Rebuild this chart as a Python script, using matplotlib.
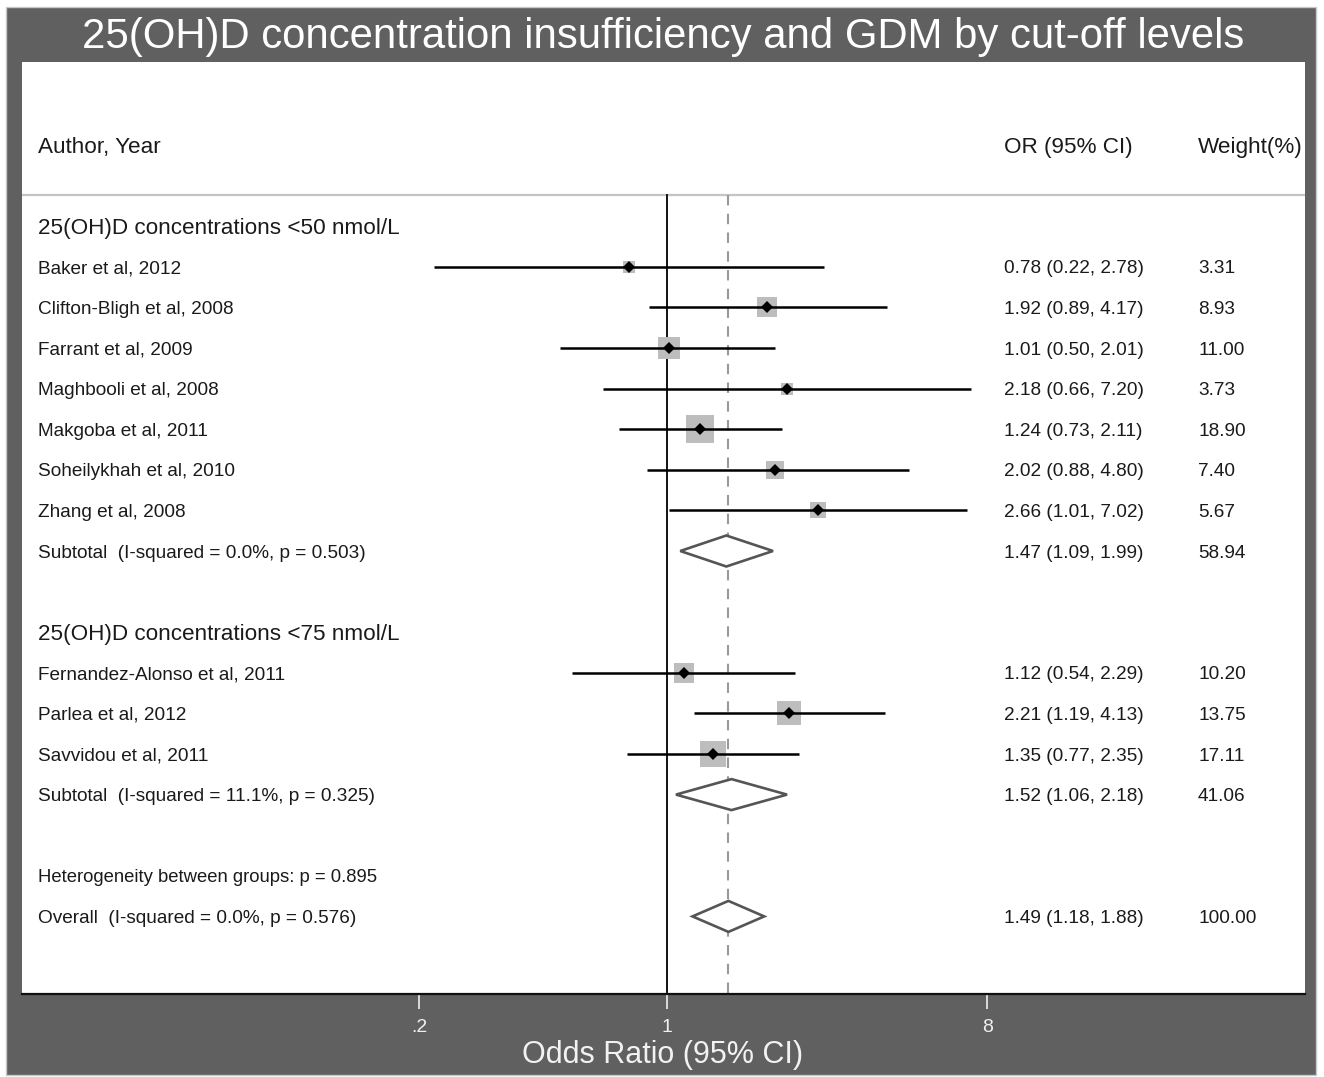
import matplotlib
matplotlib.use("Agg")
import matplotlib.pyplot as plt
from matplotlib.patches import Rectangle, Polygon
from matplotlib import transforms
import numpy as np

plt.rcParams['font.family'] = ['Liberation Sans', 'DejaVu Sans']

# ---------------- data ----------------
title = "25(OH)D concentration insufficiency and GDM by cut-off levels"
xlabel = "Odds Ratio (95% CI)"

group1_label = "25(OH)D concentrations <50 nmol/L"
group1_studies = ["Baker et al, 2012", "Clifton-Bligh et al, 2008", "Farrant et al, 2009",
                  "Maghbooli et al, 2008", "Makgoba et al, 2011", "Soheilykhah et al, 2010",
                  "Zhang et al, 2008"]
group1_or = [0.78, 1.92, 1.01, 2.18, 1.24, 2.02, 2.66]
group1_lo = [0.22, 0.89, 0.50, 0.66, 0.73, 0.88, 1.01]
group1_hi = [2.78, 4.17, 2.01, 7.20, 2.11, 4.80, 7.02]
group1_w = [3.31, 8.93, 11.00, 3.73, 18.90, 7.40, 5.67]
group1_sub_label = "Subtotal  (I-squared = 0.0%, p = 0.503)"
group1_sub = (1.47, 1.09, 1.99, 58.94)

group2_label = "25(OH)D concentrations <75 nmol/L"
group2_studies = ["Fernandez-Alonso et al, 2011", "Parlea et al, 2012", "Savvidou et al, 2011"]
group2_or = [1.12, 2.21, 1.35]
group2_lo = [0.54, 1.19, 0.77]
group2_hi = [2.29, 4.13, 2.35]
group2_w = [10.20, 13.75, 17.11]
group2_sub_label = "Subtotal  (I-squared = 11.1%, p = 0.325)"
group2_sub = (1.52, 1.06, 2.18, 41.06)

hetero_label = "Heterogeneity between groups: p = 0.895"
overall_label = "Overall  (I-squared = 0.0%, p = 0.576)"
overall = (1.49, 1.18, 1.88, 100.00)

xticks = [0.2, 1, 8]
xticklabels = [".2", "1", "8"]

# ---------------- figure ----------------
W, H = 1324, 1077
fig = plt.figure(figsize=(W / 100, H / 100), dpi=100)
fig.patch.set_facecolor("white")

frame_col = "#606060"
# gray frame as a background axes
bg = fig.add_axes([0, 0, 1, 1], zorder=-5)
bg.set_xlim(0, W)
bg.set_ylim(H, 0)
bg.axis("off")
bg.add_patch(Rectangle((6, 7), 1316 - 6, 1075 - 7, facecolor=frame_col,
                       edgecolor="#c8c8c8", lw=1))

ax_l, ax_r, ax_t, ax_b = 22, 1305, 62, 994
ax = fig.add_axes([ax_l / W, 1 - ax_b / H, (ax_r - ax_l) / W, (ax_b - ax_t) / H], zorder=1)
ax.set_facecolor("white")
ax.set_xscale("log")

# row geometry: row 0 at y=145px, 40.6 px per row
row_h = 40.6
y0 = 145
def prow(px):
    return (px - y0) / row_h

ax.set_ylim(prow(ax_b), prow(ax_t))
# x: pixel = 667 + 154*ln(OR)
def xval(px):
    return np.exp((px - 667) / 154.0)
ax.set_xlim(xval(ax_l), xval(ax_r))

for s in ["top", "left", "right"]:
    ax.spines[s].set_visible(False)
ax.spines["bottom"].set_color("#111111")
ax.spines["bottom"].set_linewidth(1.6)
ax.set_yticks([])
ax.set_xticks(xticks)
ax.set_xticklabels(xticklabels)
ax.xaxis.set_minor_locator(matplotlib.ticker.NullLocator())
ax.tick_params(axis="x", direction="out", length=11, width=1.2, colors="#f0f0f0",
               labelsize=14, pad=7, labelcolor="#f0f0f0")
ax.xaxis.get_major_ticks()[1].tick1line.set_color("#333333")

txt_col = "#1a1a1a"
small = 13.7
big = 16.2
toff = 0.05  # text vertical offset (rows)
blend = transforms.blended_transform_factory(fig.transFigure, ax.transData)
x_left = 38 / W
x_or = 1004 / W
x_w = 1198 / W

def put(x, row, s, size):
    ax.text(x, row + toff, s, transform=blend, fontsize=size, va="center", color=txt_col)

sep_row = prow(195)
ax.axhline(sep_row, color="#c4c4c4", lw=1.6, zorder=1)

# null line and overall dashed line
ax.plot([1, 1], [sep_row, prow(ax_b)], color="black", lw=1.3, zorder=2)
ax.plot([overall[0], overall[0]], [sep_row, prow(ax_b)], color="#999999", lw=1.5,
        ls=(0, (5, 4)), zorder=2)

# headers
put(x_left, 0, "Author, Year", big)
put(x_or, 0, "OR (95% CI)", big)
put(x_w, 0, "Weight(%)", big)

box_k = 6.44 * 0.72  # points per sqrt(weight)

def draw_study(row, name, o, lo, hi, w):
    ax.plot([lo, hi], [row, row], color="black", lw=1.8, zorder=4, solid_capstyle="butt")
    ax.plot([o], [row], marker="s", ms=box_k * np.sqrt(w), color="#bdbdbd",
            mew=0, zorder=3, ls="none")
    ax.plot([o], [row], marker="D", ms=6.3, color="black", mew=0, zorder=5, ls="none")
    put(x_left, row, name, small)
    put(x_or, row, f"{o:.2f} ({lo:.2f}, {hi:.2f})", small)
    put(x_w, row, f"{w:.2f}", small)

def draw_diamond(row, label, vals):
    o, lo, hi, w = vals
    hh = 15.5 / row_h
    poly = Polygon([(lo, row), (o, row - hh), (hi, row), (o, row + hh)], closed=True,
                   facecolor="white", edgecolor="#555555", lw=1.9, zorder=4)
    ax.add_patch(poly)
    put(x_left, row, label, small)
    put(x_or, row, f"{o:.2f} ({lo:.2f}, {hi:.2f})", small)
    put(x_w, row, f"{w:.2f}", small)

row = 2
put(x_left, row, group1_label, big)
for i, name in enumerate(group1_studies):
    row += 1
    draw_study(row, name, group1_or[i], group1_lo[i], group1_hi[i], group1_w[i])
row += 1
draw_diamond(row, group1_sub_label, group1_sub)
row += 2
put(x_left, row, group2_label, big)
for i, name in enumerate(group2_studies):
    row += 1
    draw_study(row, name, group2_or[i], group2_lo[i], group2_hi[i], group2_w[i])
row += 1
draw_diamond(row, group2_sub_label, group2_sub)
row += 2
put(x_left, row, hetero_label, small - 0.4)
row += 1
draw_diamond(row, overall_label, overall)

# title and x label
fig.text(663 / W, 1 - 37 / H, title, fontsize=30.2, color="white", ha="center", va="center")
fig.text(663 / W, 1 - 1055 / H, xlabel, fontsize=22, color="#f2f2f2", ha="center",
         va="center")

fig.savefig("out.png", dpi=100, facecolor="white")
